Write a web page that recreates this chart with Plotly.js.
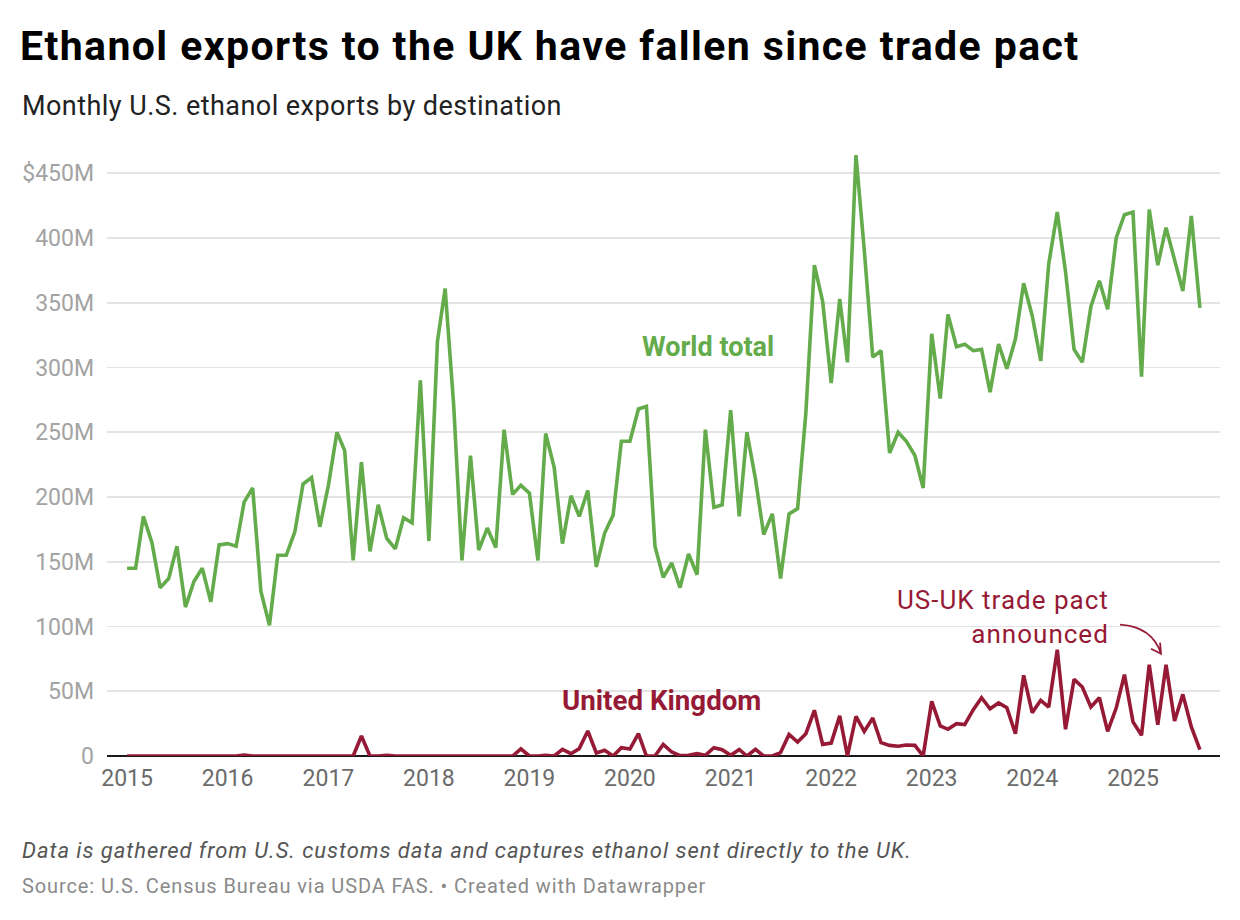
<!DOCTYPE html>
<html>
<head>
<meta charset="utf-8">
<script src="https://cdn.plot.ly/plotly-3.0.1.min.js"></script>
<style>
  html, body { margin: 0; padding: 0; background: #ffffff; }
  #chart { width: 1240px; height: 920px; }
</style>
</head>
<body>
<div id="chart"></div>
<script>
// Monthly U.S. ethanol exports, millions of dollars, Jan 2015 – Sep 2025
const startYear = 2015;

const worldTotal = [
  145, 145, 185, 165, 130, 137, 162, 115, 135, 145, 119, 163,   // 2015
  164, 162, 196, 207, 127, 101, 155, 155, 173, 210, 215, 177,   // 2016
  209, 250, 236, 151, 227, 158, 194, 168, 160, 184, 180, 290,   // 2017
  166, 320, 361, 271, 151, 232, 159, 176, 161, 252, 202, 209,   // 2018
  203, 151, 249, 223, 164, 201, 185, 205, 146, 172, 186, 243,   // 2019
  243, 268, 270, 162, 138, 149, 130, 156, 140, 252, 192, 194,   // 2020
  267, 185, 250, 214, 171, 187, 137, 187, 191, 265, 379, 351,   // 2021
  288, 353, 304, 464, 391, 308, 313, 234, 250, 243, 232, 207,   // 2022
  326, 276, 341, 316, 318, 313, 314, 281, 318, 299, 322, 365,   // 2023
  340, 305, 380, 420, 374, 314, 304, 347, 367, 345, 400, 418,   // 2024
  420, 293, 422, 379, 408, 384, 359, 417, 346                   // 2025
];

const unitedKingdom = [
  0, 0, 0, 0, 0, 0, 0, 0, 0, 0, 0, 0,                           // 2015
  0, 0, 0.8, 0, 0, 0, 0, 0, 0, 0, 0, 0,                         // 2016
  0, 0, 0, 0, 15.4, 0, 0, 0.5, 0, 0, 0, 0,                      // 2017
  0, 0, 0, 0, 0, 0, 0, 0, 0, 0, 0, 5.5,                         // 2018
  0, 0, 0.5, 0, 5.1, 1.8, 5.7, 19.3, 2.3, 4.4, 0, 6.4,          // 2019
  5.4, 17.2, 0, 0, 9, 3.1, 0.3, 0.5, 1.8, 0.5, 6.4, 4.9,        // 2020
  0.5, 5.1, 0, 5.1, 0, 0, 2.6, 16.7, 10.8, 17.2, 35.3, 9,       // 2021
  10, 31, 0, 30.6, 19, 29.3, 10.3, 8.2, 7.5, 8.5, 8.2, 0,       // 2022
  42.2, 23.2, 20.6, 25, 24.2, 35.8, 45, 36.5, 41, 37.3, 17.2, 62.3, // 2023
  33.5, 43, 37.8, 82.1, 20.6, 59.2, 53.3, 37.8, 45, 19, 37, 62.8,   // 2024
  26.3, 16, 70.5, 24.2, 70.5, 27, 47.6, 22.4, 4.9               // 2025
];

const yearTicks = ['2015', '2016', '2017', '2018', '2019', '2020',
                   '2021', '2022', '2023', '2024', '2025'];
const valueTicks = [0, 50, 100, 150, 200, 250, 300, 350, 400, 450];
const valueTickText = ['0', '50M', '100M', '150M', '200M', '250M',
                       '300M', '350M', '400M', '$450M'];

// Month the trade pact was announced (May 2025)
const pactMonth = '2025-05';

// ---- helpers -------------------------------------------------------------
function monthDate(i) {
  const y = startYear + Math.floor(i / 12);
  const m = (i % 12) + 1;
  return y + '-' + String(m).padStart(2, '0') + '-01';
}
const months = worldTotal.map((_, i) => monthDate(i));
const pactIndex = months.indexOf(pactMonth + '-01');

// text with a little extra tracking
const spaced = (txt, ls) => '<span style="letter-spacing:' + ls + 'px">' + txt + '</span>';

const GREEN = '#64ab4b';
const RED = '#961a35';
const FONT = 'Roboto, "Open Sans", sans-serif';

const W = 1240, H = 920;
const margin = { l: 107, r: 20, t: 150, b: 164 };
const plotW = W - margin.l - margin.r;
const plotH = H - margin.t - margin.b;
const px = x => (x - margin.l) / plotW;          // page x -> paper x
const py = y => (H - margin.b - y) / plotH;      // page y -> paper y

const traces = [
  {
    x: months, y: worldTotal, type: 'scatter', mode: 'lines',
    line: { color: GREEN, width: 3.6, shape: 'linear' },
    hoverinfo: 'skip', name: 'World total'
  },
  {
    x: months, y: unitedKingdom, type: 'scatter', mode: 'lines',
    line: { color: RED, width: 3.6, shape: 'linear' },
    hoverinfo: 'skip', name: 'United Kingdom'
  }
];

const layout = {
  width: W, height: H,
  margin: margin,
  paper_bgcolor: '#ffffff',
  plot_bgcolor: '#ffffff',
  showlegend: false,
  font: { family: FONT },
  title: {
    text: spaced('<b>Ethanol exports to the UK have fallen since trade pact</b>', 1.4),
    font: { family: FONT, size: 41, color: '#000000' },
    xref: 'container', yref: 'container',
    x: 20 / W, xanchor: 'left',
    y: 1 - 46 / H, yanchor: 'middle'
  },
  xaxis: {
    type: 'date',
    range: ['2014-10-20', '2025-11-13'],
    tickvals: yearTicks.map(y => y + '-01-01'),
    ticktext: yearTicks,
    tickfont: { family: FONT, size: 23, color: '#6b6b6b' },
    ticks: '', showgrid: false, zeroline: false, showline: false,
    ticklabelstandoff: 6,
    fixedrange: true
  },
  yaxis: {
    range: [0, (H - margin.b - margin.t) / 1.295],
    tickvals: valueTicks,
    ticktext: valueTickText,
    tickfont: { family: FONT, size: 23, color: '#a3a3a3' },
    ticks: '', showline: false,
    gridcolor: '#e4e4e4', gridwidth: 1.6,
    zeroline: true, zerolinecolor: '#1a1a1a', zerolinewidth: 2,
    ticklabelstandoff: 12,
    fixedrange: true
  },
  annotations: [
    {
      xref: 'paper', yref: 'paper', x: px(20), y: py(106),
      xanchor: 'left', yanchor: 'middle', showarrow: false,
      text: spaced('Monthly U.S. ethanol exports by destination', 0.45),
      font: { family: FONT, size: 27, color: '#222222' }
    },
    {
      xref: 'paper', yref: 'paper', x: px(708), y: py(347),
      xanchor: 'center', yanchor: 'middle', showarrow: false,
      text: '<b>World total</b>',
      font: { family: FONT, size: 27, color: GREEN }
    },
    {
      xref: 'paper', yref: 'paper', x: px(661), y: py(700),
      xanchor: 'center', yanchor: 'middle', showarrow: false,
      text: '<b>United Kingdom</b>',
      font: { family: FONT, size: 27.7, color: RED }
    },
    {
      xref: 'paper', yref: 'paper', x: px(1111), y: py(617),
      xanchor: 'right', yanchor: 'middle', align: 'right', showarrow: false,
      text: spaced('US-UK trade pact', 1) + '<br>' + spaced('announced', 1),
      font: { family: FONT, size: 26, color: RED }
    },
    {
      xref: 'paper', yref: 'paper', x: px(20), y: py(850),
      xanchor: 'left', yanchor: 'middle', showarrow: false,
      text: spaced('<i>Data is gathered from U.S. customs data and captures ethanol sent directly to the UK.</i>', 0.95),
      font: { family: FONT, size: 22, color: '#555555' }
    },
    {
      xref: 'paper', yref: 'paper', x: px(20), y: py(886),
      xanchor: 'left', yanchor: 'middle', showarrow: false,
      text: spaced('Source: U.S. Census Bureau via USDA FAS. • Created with Datawrapper', 0.9),
      font: { family: FONT, size: 20, color: '#8a8a8a' }
    }
  ],
  shapes: [
    // curved pointer to the May 2025 UK peak, drawn in pixel offsets from that point
    {
      type: 'path', xref: 'x', yref: 'y',
      xsizemode: 'pixel', ysizemode: 'pixel',
      xanchor: months[pactIndex], yanchor: unitedKingdom[pactIndex],
      path: 'M-46,40 Q-14,38 -5,11 M-15,16 L-5,11 L-6,22',
      line: { color: RED, width: 1.8 },
      layer: 'above'
    }
  ]
};

Plotly.newPlot('chart', traces, layout, { displayModeBar: false, staticPlot: true });
</script>
</body>
</html>
